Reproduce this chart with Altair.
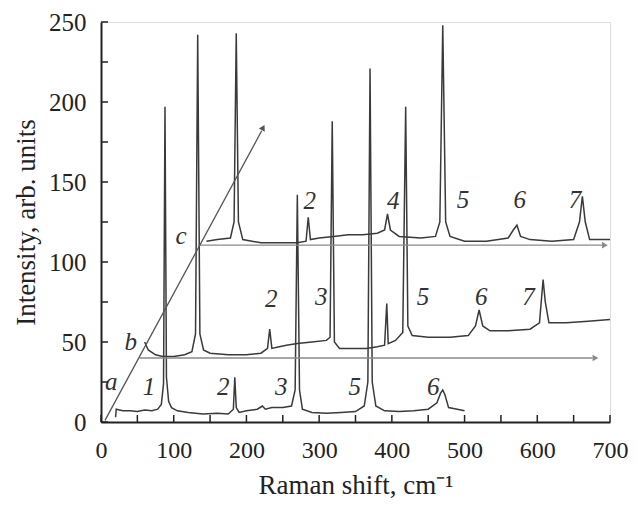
import altair as alt
import pandas as pd

# ---- spectra ----
a_x = [20, 21, 30, 40, 50, 60, 70, 78, 83, 86, 88, 90, 93, 97, 105, 120, 140, 160, 175, 182,
       184, 186, 190, 200, 215, 222, 226, 235, 250, 262, 267, 270, 273, 277, 290, 310, 330, 350, 362, 367,
       370, 373, 378, 390, 410, 430, 450, 462, 467, 470, 473, 478, 490, 500]
a_y = [3, 8, 7, 7, 6.5, 7.5, 7, 8, 11, 24, 197, 28, 13, 9, 7, 6, 5, 5.5, 5, 8,
       28, 9, 6, 7, 8, 10, 8, 9, 9, 10, 20, 142, 20, 8, 6, 5.5, 6, 6.5, 10, 25,
       221, 25, 10, 7, 6.5, 7, 8, 12, 18, 20, 17, 9, 8, 7]

b_x = [60, 65, 75, 85, 100, 115, 125, 130, 133, 136, 141, 150, 175, 200, 220, 229, 232, 235, 245, 255,
       270, 290, 310, 315, 318, 321, 328, 345, 365, 380, 390, 393, 395, 405, 415, 419, 422, 428, 450, 480,
       505, 515, 520, 525, 535, 560, 590, 603, 608, 611, 616, 640, 670, 700]
b_y = [50, 45, 42, 41, 41, 42, 44, 55, 242, 55, 45, 43, 42, 42, 43, 46, 58, 46, 47, 48,
       49, 50, 51, 53, 188, 50, 46, 46, 46, 47, 48, 74, 49, 51, 56, 197, 60, 54, 53, 53,
       54, 60, 70, 60, 57, 57, 58, 62, 89, 75, 62, 62, 63, 64]

c_x = [145, 160, 178, 183, 186, 189, 195, 220, 250, 270, 282, 285, 288, 300, 320, 340, 360, 380, 390, 394,
       398, 410, 440, 460, 466, 470, 474, 480, 500, 530, 560, 567, 572, 577, 590, 620, 650, 658, 662, 666,
       672, 700]
c_y = [113, 114, 115, 125, 243, 125, 114, 112, 112, 112, 113, 128, 114, 115, 116, 117, 117, 118, 120, 130,
       120, 116, 115, 116, 125, 248, 125, 116, 113, 113, 115, 120, 123, 116, 114, 113, 114, 125, 141, 125,
       114, 114]

# peak labels
lab_text = ["1", "2", "3", "5", "6", "2", "3", "5", "6", "7", "2", "4", "5", "6", "7", "a", "b", "c"]
lab_x = [66, 168, 248, 349, 457, 234, 303, 443, 523, 588, 287, 402, 498, 576, 652, 14, 41, 110]
lab_y = [22, 22, 22, 22, 22, 77, 78, 78, 78, 78, 138, 138, 139, 139, 139, 25, 50, 116]

# arrows (start, end) and heads
arr_x = [53, 133, 5.5]
arr_x2 = [676, 689, 221]
arr_y = [40, 110.5, 1]
arr_y2 = [40, 110.5, 182]
head_x = [680, 693, 223]
head_y = [40, 110.5, 184]
head_shape = ["triangle-right", "triangle-right", "triangle-up"]
head_angle = [0, 0, 28]
arr_color = ["#8a8a8a", "#8a8a8a", "#555555"]

x_ticks = list(range(0, 701, 50))
y_ticks = list(range(0, 251, 25))
x_labels = list(range(0, 701, 100))
y_labels = list(range(0, 251, 50))

rows = []
for name, xs, ys in (("a", a_x, a_y), ("b", b_x, b_y), ("c", c_x, c_y)):
    for i, (xv, yv) in enumerate(zip(xs, ys)):
        rows.append({"s": name, "i": i, "x": xv, "y": yv})
spec = pd.DataFrame(rows)

SERIF = "Liberation Serif"
xscale = alt.Scale(domain=[0, 700], nice=False, zero=False)
yscale = alt.Scale(domain=[0, 250], nice=False, zero=False)
xaxis = alt.Axis(values=x_labels, ticks=False, grid=False, domainColor="#222", domainWidth=2,
                 labelFont=SERIF, labelFontSize=24, labelColor="#222", labelPadding=16,
                 labelFlush=False, labelOverlap=False,
                 title="Raman shift, cm\u207b\u00b9", titleFont=SERIF, titleFontSize=27,
                 titleFontWeight="normal", titleColor="#222", titlePadding=10)
yaxis = alt.Axis(values=y_labels, ticks=False, grid=False, domainColor="#222", domainWidth=2,
                 labelFont=SERIF, labelFontSize=25, labelColor="#222", labelPadding=15,
                 labelFlush=False, labelOverlap=False,
                 title="Intensity, arb. units", titleFont=SERIF, titleFontSize=27,
                 titleFontWeight="normal", titleColor="#222", titlePadding=8)

X = alt.X("x:Q", scale=xscale, axis=xaxis)
Y = alt.Y("y:Q", scale=yscale, axis=yaxis)

lines = alt.Chart(spec).mark_line(color="#3a3a3a", strokeWidth=1.5).encode(
    x=X, y=Y, detail="s:N", order="i:Q")

arrows_df = pd.DataFrame({"x": arr_x, "x2": arr_x2, "y": arr_y, "y2": arr_y2, "c": arr_color})
arrows = alt.Chart(arrows_df).mark_rule(strokeWidth=1.3).encode(
    x=X, x2="x2:Q", y=Y, y2="y2:Q", color=alt.Color("c:N", scale=None))

heads_df = pd.DataFrame({"x": head_x, "y": head_y, "shape": head_shape, "angle": head_angle, "c": arr_color})
heads = alt.Chart(heads_df).mark_point(filled=True, size=45, opacity=1).encode(
    x=X, y=Y, shape=alt.Shape("shape:N", scale=None), angle=alt.Angle("angle:Q", scale=None),
    color=alt.Color("c:N", scale=None))

labels_df = pd.DataFrame({"x": lab_x, "y": lab_y, "t": lab_text})
labels = alt.Chart(labels_df).mark_text(font=SERIF, fontStyle="italic", fontSize=25, color="#333",
                                        align="center", baseline="middle").encode(x=X, y=Y, text="t:N")

xt = alt.Chart(pd.DataFrame({"x": x_ticks})).mark_rule(color="#222", strokeWidth=1.5).encode(
    x=X, y=alt.value(400), y2=alt.value(393))
yt = alt.Chart(pd.DataFrame({"y": y_ticks})).mark_rule(color="#222", strokeWidth=1.5).encode(
    y=Y, x=alt.value(0), x2=alt.value(7))

chart = alt.layer(lines, arrows, heads, labels, xt, yt).properties(
    width=509, height=400,
    autosize=alt.AutoSizeParams(type="none"),
    padding={"left": 93, "top": 14, "right": 19, "bottom": 81},
).configure_view(stroke="#888", strokeWidth=1.5).configure(background="white")

chart.save("out.html", embed_options={"renderer": "svg", "actions": False})
